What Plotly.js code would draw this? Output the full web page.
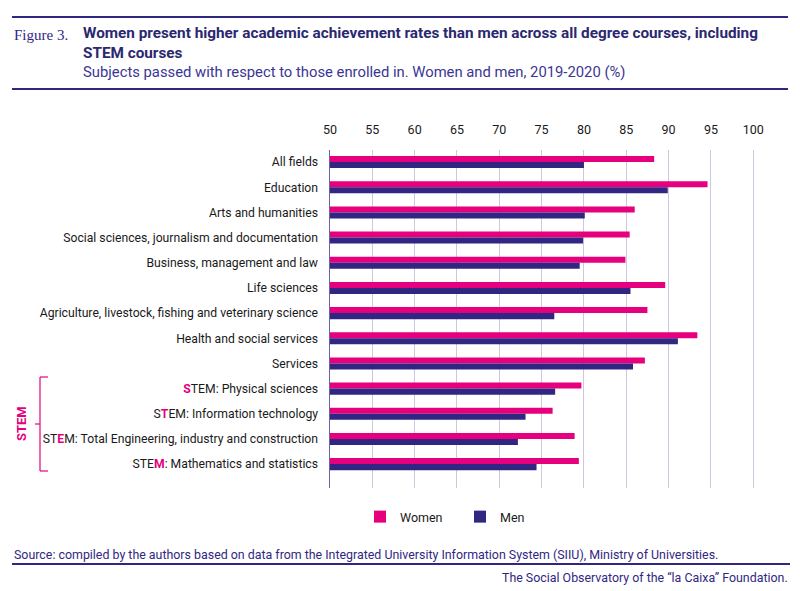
<!DOCTYPE html>
<html>
<head>
<meta charset="utf-8">
<script src="https://cdn.plot.ly/plotly-3.0.1.min.js"></script>
<style>
  html, body { margin: 0; padding: 0; background: #fff; }
  #chart { width: 800px; height: 591px; }
</style>
</head>
<body>
<div id="chart"></div>
<script>
// Data (% of subjects passed, 2019-2020)
var categories = [
  'All fields',
  'Education',
  'Arts and humanities',
  'Social sciences, journalism and documentation',
  'Business, management and law',
  'Life sciences',
  'Agriculture, livestock, fishing and veterinary science',
  'Health and social services',
  'Services',
  'STEM: Physical sciences',
  'STEM: Information technology',
  'STEM: Total Engineering, industry and construction',
  'STEM: Mathematics and statistics'
];
var women = [88.3, 94.6, 86.0, 85.4, 84.9, 89.6, 87.5, 93.4, 87.2, 79.7, 76.3, 78.9, 79.4];
var men   = [80.0, 89.9, 80.1, 79.9, 79.5, 85.5, 76.5, 91.1, 85.8, 76.6, 73.1, 72.2, 74.4];
var xTicks = [50, 55, 60, 65, 70, 75, 80, 85, 90, 95, 100];

var pink = '#e6007e';
var navy = '#312783';

// highlight the STEM letter of each STEM row
function hi(s) { return '<span style="color:' + pink + ';font-weight:bold">' + s + '</span>'; }
var tickLabels = categories.slice(0, 9).concat([
  hi('S') + 'TEM: Physical sciences',
  'S' + hi('T') + 'EM: Information technology',
  'ST' + hi('E') + 'M: Total Engineering, industry and construction',
  'STE' + hi('M') + ': Mathematics and statistics'
]);

// plot area in pixels, to place the decorations
var L = 330, R = 760, T = 150, B = 488;
function px(x) { return (x - L) / (R - L); }
function py(y) { return (B - y) / (B - T); }

var data = [
  { type: 'bar', orientation: 'h', name: 'Women', y: categories, x: women,
    marker: { color: pink }, hoverinfo: 'x+y' },
  { type: 'bar', orientation: 'h', name: 'Men', y: categories, x: men,
    marker: { color: navy }, hoverinfo: 'x+y' }
];

var txt = function (x, y, text, opts) {
  return Object.assign({
    xref: 'paper', yref: 'paper', x: px(x), y: py(y), text: text,
    showarrow: false, xanchor: 'left', yanchor: 'middle',
    font: { family: 'Roboto, sans-serif', size: 13, color: navy }
  }, opts || {});
};
var line = function (x0, y0, x1, y1, color, w) {
  return { type: 'line', xref: 'paper', yref: 'paper',
    x0: px(x0), y0: py(y0), x1: px(x1), y1: py(y1),
    line: { color: color, width: w } };
};

var layout = {
  width: 800, height: 591,
  margin: { l: L, r: 800 - R, t: T, b: 591 - B },
  paper_bgcolor: '#fff', plot_bgcolor: '#fff',
  barmode: 'group', bargap: 0.52, bargroupgap: 0,
  font: { family: 'Roboto, sans-serif', size: 12, color: '#1a1a1a' },
  xaxis: {
    side: 'top', range: [50, 100.8], tickvals: xTicks, ticktext: xTicks.map(String),
    showgrid: true, gridcolor: '#cdc8e0', gridwidth: 1, zeroline: false,
    ticks: 'outside', ticklen: 10, tickcolor: 'rgba(0,0,0,0)',
    tickfont: { size: 12.5, color: '#1a1a1a' }, fixedrange: true
  },
  yaxis: {
    type: 'category', range: [12.95, -0.48],
    tickvals: categories, ticktext: tickLabels,
    showline: true, linecolor: '#6a62a8', linewidth: 1.5,
    ticks: '', ticklabelstandoff: 8,
    tickfont: { size: 12.2, color: '#1a1a1a' }, fixedrange: true
  },
  showlegend: true,
  legend: {
    orientation: 'h', x: px(360), xanchor: 'left', y: py(517), yanchor: 'middle',
    font: { size: 12.5, color: '#1a1a1a' }, itemwidth: 30,
    entrywidth: 55, entrywidthmode: 'pixels',
    traceorder: 'normal'
  },
  shapes: [
    line(12, 17, 788, 17, navy, 2),
    line(12, 89, 788, 89, navy, 2),
    line(12, 564, 790, 564, navy, 2),
    // STEM bracket
    line(40, 377, 40, 471, pink, 1.2),
    line(40, 377, 48, 377, pink, 1.2),
    line(40, 471, 48, 471, pink, 1.2),
    line(35, 424, 40, 424, pink, 1.2)
  ],
  annotations: [
    txt(12, 35, 'Figure 3.', { font: { family: 'Liberation Serif, serif', size: 15, color: navy } }),
    txt(81, 42.5, '<b>Women present higher academic achievement rates than men across all degree courses, including</b><br><b>STEM courses</b>',
      { align: 'left', font: { family: 'Roboto, sans-serif', size: 15.3, color: '#2b2870' } }),
    txt(81, 72, 'Subjects passed with respect to those enrolled in. Women and men, 2019-2020 (%)',
      { font: { family: 'Roboto, sans-serif', size: 14.8, color: '#3b3694' } }),
    txt(21, 424, '<b>STEM</b>', { xanchor: 'center', textangle: -90,
      font: { family: 'Roboto, sans-serif', size: 13, color: pink } }),
    txt(12, 554, 'Source: compiled by the authors based on data from the Integrated University Information System (SIIU), Ministry of Universities.',
      { font: { family: 'Roboto, sans-serif', size: 12.4, color: navy } }),
    txt(790, 577, 'The Social Observatory of the “la Caixa” Foundation.',
      { xanchor: 'right', font: { family: 'Roboto, sans-serif', size: 12.4, color: navy } })
  ]
};

Plotly.newPlot('chart', data, layout, { displayModeBar: false, staticPlot: true });
</script>
</body>
</html>
